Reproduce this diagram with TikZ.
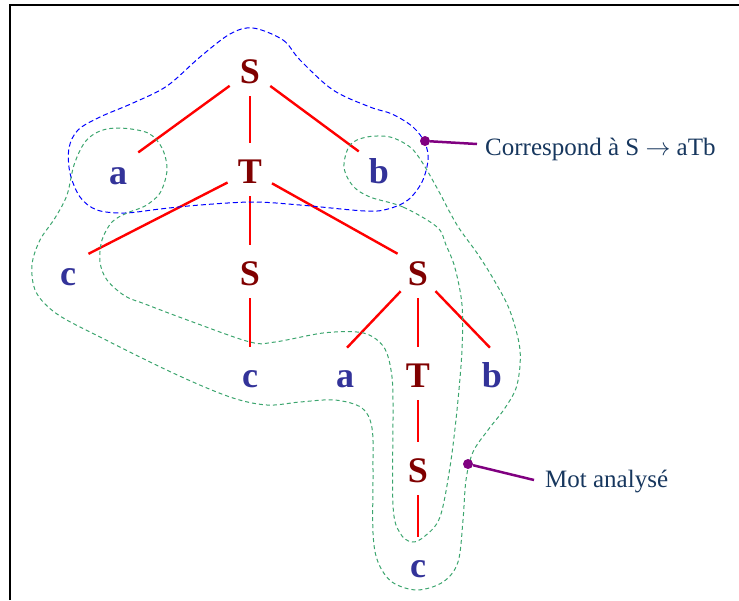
\documentclass[tikz,border=0pt]{standalone}
\usepackage{fontspec}
\setmainfont{Liberation Serif}
\definecolor{treered}{RGB}{128,0,0}
\definecolor{leafblue}{RGB}{51,51,153}
\definecolor{navy}{RGB}{23,55,94}
\definecolor{greendash}{RGB}{60,165,110}
\definecolor{purp}{RGB}{128,0,128}
\begin{document}
\begin{tikzpicture}[x=1pt,y=-1pt,
  sym/.style={circle,inner sep=0pt,minimum size=50pt,text height=24pt,text depth=0pt,
    font=\fontsize{36}{40}\selectfont\bfseries,anchor=base},
  nt/.style={sym,text=treered},
  leaf/.style={sym,text=leafblue},
  edge/.style={red,line width=2.4pt,shorten >=3pt},
  dot/.style={circle,fill=purp,inner sep=0pt,minimum size=10pt},
  lbl/.style={text=navy,font=\fontsize{25}{30}\selectfont,inner ysep=0pt,anchor=base west},
  pointer/.style={purp,line width=2.5pt},
  grpblue/.style={blue,line width=1pt,dash pattern=on 5pt off 3pt},
  grpgreen/.style={greendash,line width=1pt,dash pattern=on 4pt off 3pt}]
\useasboundingbox (0,0) rectangle (739,600);
\draw[line width=2pt] (10,600) -- (10,5) -- (739,5);

% tree nodes
\node[nt]   (S0) at (250,83)  {S};
\node[leaf] (a1) at (118,184) {a};
\node[nt]   (T1) at (250,183) {T};
\node[leaf] (b1) at (379,183) {b};
\node[leaf] (c2) at (68,285)  {c};
\node[nt]   (S2) at (250,285) {S};
\node[nt]   (S3) at (418,285) {S};
\node[leaf] (c4) at (250,387) {c};
\node[leaf] (a4) at (345,387) {a};
\node[nt]   (T4) at (418,387) {T};
\node[leaf] (b4) at (492,387) {b};
\node[nt]   (S5) at (418,482) {S};
\node[leaf] (c6) at (418,577) {c};

% tree edges
\draw[edge] (S0) -- (a1.north east);
\draw[edge] (S0) -- (T1);
\draw[edge] (S0) -- (b1.north west);
\draw[edge] (T1) -- (c2.north east);
\draw[edge] (T1) -- (S2);
\draw[edge] (T1) -- (S3.north west);
\draw[edge] (S2) -- (c4);
\draw[edge] (S3) -- (a4.north);
\draw[edge] (S3) -- (T4);
\draw[edge] (S3) -- (b4.north);
\draw[edge] (T4) -- (S5);
\draw[edge] (S5) -- (c6);

% blue group (production S -> aTb)
\draw[grpblue] plot[smooth cycle,tension=0.55] coordinates {
  (253,28) (283,40) (300,60) (333,90) (370,107) (392,114) (413,127) (425,143)
  (428,160) (422,182) (408,200) (388,209) (365,211) (300,205) (253,202)
  (200,205) (160,209) (125,213) (97,210) (80,197) (70,173) (69,148) (78,130)
  (100,117) (133,103) (167,86) (200,57) (230,34)};

% green group (analysed word)
\draw[grpgreen] plot[smooth cycle,tension=0.55] coordinates {
  (437,227) (403,207) (370,197) (353,186) (344,167) (350,145) (367,137) (390,137)
  (410,147) (422,162) (437,188) (457,225) (477,253) (494,280) (510,311) (520,350)
  (517,385) (505,408) (488,430) (473,452) (466,480) (463,520) (458,562) (443,582)
  (417,590) (392,582) (378,562) (373,533) (373,470) (372,428) (362,408) (335,400)
  (300,402) (267,405) (230,397) (173,373) (100,337) (57,314) (36,292) (32,265)
  (40,240) (55,218) (67,195) (74,165) (85,142) (100,131) (120,128) (148,133)
  (162,148) (167,170) (160,193) (145,206) (127,213) (112,222) (102,240) (100,262)
  (107,280) (125,296) (145,304) (190,321) (250,342) (275,342) (323,333) (357,332)
  (373,337) (385,349) (391,370) (393,400) (393,505) (400,533) (412,542) (425,536)
  (440,517) (450,467) (457,410) (462,350) (462,305) (455,268) (446,245)};

% annotations
\node[dot] (D1) at (425,141) {};
\node[lbl,inner xsep=8pt,text height=22pt,text depth=0pt] (L1) at (477,155) {Correspond à S $\rightarrow$ aTb};
\draw[pointer] (D1) -- (L1.west);
\node[dot] (D2) at (468,464) {};
\node[lbl,inner xsep=11pt,text height=14pt,text depth=0pt] (L2) at (534,487) {Mot analysé};
\draw[pointer] (D2) -- (L2.west);
\end{tikzpicture}
\end{document}
